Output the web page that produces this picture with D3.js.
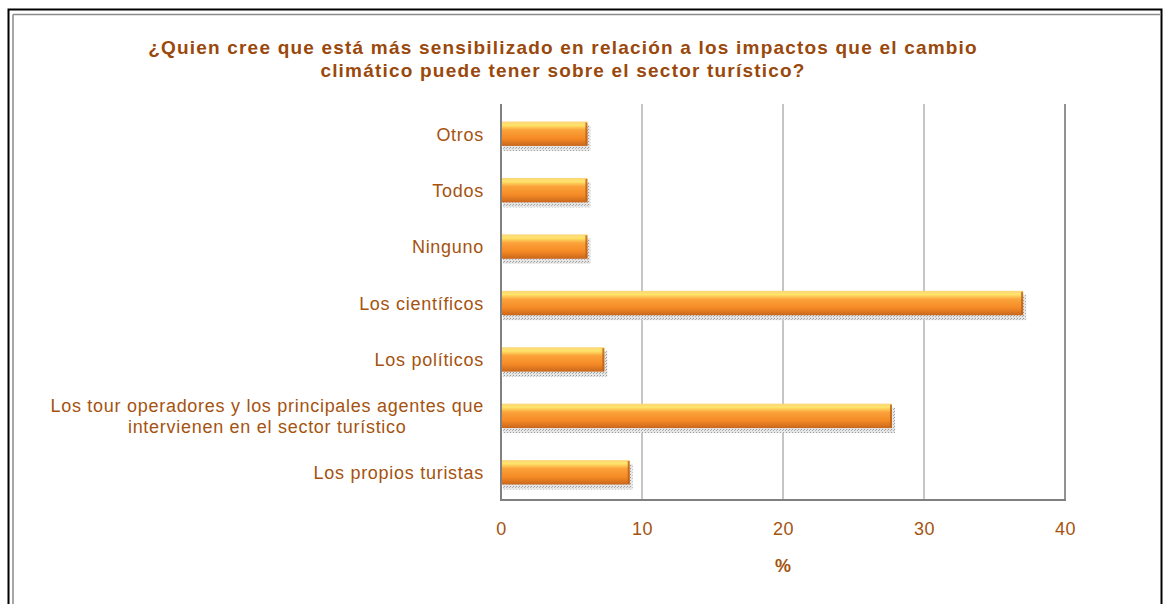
<!DOCTYPE html>
<html><head><meta charset="utf-8">
<script src="https://cdn.jsdelivr.net/npm/d3@7"></script>
<style>body{margin:0;background:#fff}svg{display:block}text{font-family:"Liberation Sans",Arial,sans-serif}</style>
</head><body>
<svg id="c" width="1163" height="604"></svg>
<script>
const titleLines = ["¿Quien cree que está más sensibilizado en relación a los impactos que el cambio", "climático puede tener sobre el sector turístico?"];
const categories = [
  ["Otros"],
  ["Todos"],
  ["Ninguno"],
  ["Los científicos"],
  ["Los políticos"],
  ["Los tour operadores y los principales agentes que", "intervienen en el sector turístico"],
  ["Los propios turistas"]
];
const values = [6.2, 6.2, 6.2, 37.1, 7.4, 27.8, 9.2];
const xTicks = [0, 10, 20, 30, 40];
const xLabel = "%";

const svg = d3.select("#c");
const textColor = "#a5530f";
const m = {left: 501, right: 1065, top: 104, bottom: 500};

// frame
svg.append("rect").attr("x", 8.5).attr("y", 9.5).attr("width", 1153).attr("height", 620).attr("fill", "none").attr("stroke", "#000").attr("stroke-width", 2);
svg.append("line").attr("x1", 13).attr("x2", 13).attr("y1", 14.5).attr("y2", 604).attr("stroke", "#8a8a8a").attr("stroke-width", 1.5);
svg.append("line").attr("x1", 13).attr("x2", 1161).attr("y1", 14.5).attr("y2", 14.5).attr("stroke", "#8a8a8a").attr("stroke-width", 1.5);

// gradient
const defs = svg.append("defs");
const g = defs.append("linearGradient").attr("id", "bg").attr("x1", 0).attr("y1", 0).attr("x2", 0).attr("y2", 1);
[[0, "#fbd57a"], [0.15, "#ffe46a"], [0.35, "#fba23a"], [0.7, "#f58a25"], [1, "#c8661c"]].forEach(([o, c]) => g.append("stop").attr("offset", o).attr("stop-color", c));
const pat = defs.append("pattern").attr("id", "dots").attr("width", 3).attr("height", 3).attr("patternUnits", "userSpaceOnUse");
pat.append("rect").attr("width", 3).attr("height", 3).attr("fill", "#e6e6e6");
pat.append("rect").attr("width", 1).attr("height", 1).attr("fill", "#9a9a9a");
pat.append("rect").attr("x", 2).attr("y", 1).attr("width", 1).attr("height", 1).attr("fill", "#b0b0b0");

const x = d3.scaleLinear().domain([0, 40]).range([m.left, m.right]);
const y = d3.scaleBand().domain(d3.range(categories.length)).range([106, 501]).paddingInner(0.55).paddingOuter(0.275);

// title
svg.append("text").attr("text-anchor", "middle").attr("fill", "#9a480c").attr("font-weight", "bold").attr("font-size", 19).attr("letter-spacing", 1.2)
  .selectAll("tspan").data(titleLines).join("tspan").attr("x", 563).attr("y", (d, i) => 54 + i * 23).text(d => d);

// gridlines
svg.append("g").selectAll("line").data(xTicks.slice(1)).join("line")
  .attr("x1", d => x(d)).attr("x2", d => x(d)).attr("y1", m.top).attr("y2", m.bottom)
  .attr("stroke", "#8c8c8c").attr("stroke-width", 1);

// bars shadow
svg.append("g").selectAll("rect").data(values).join("rect")
  .attr("x", x(0) + 2).attr("y", (d, i) => y(i) + 4).attr("width", d => x(d) - x(0)).attr("height", y.bandwidth())
  .attr("fill", "url(#dots)");
// bars
svg.append("g").selectAll("rect").data(values).join("rect")
  .attr("x", x(0)).attr("y", (d, i) => y(i)).attr("width", d => x(d) - x(0) - 1).attr("height", y.bandwidth() - 1)
  .attr("fill", "url(#bg)");
// bar right edge darker
svg.append("g").selectAll("rect").data(values).join("rect")
  .attr("x", d => x(d) - 3).attr("y", (d, i) => y(i) + 1).attr("width", 2).attr("height", y.bandwidth() - 3)
  .attr("fill", "#b8601c").attr("opacity", 0.8);

// axes lines
svg.append("line").attr("x1", m.left).attr("x2", m.left).attr("y1", m.top).attr("y2", m.bottom + 1).attr("stroke", "#808080").attr("stroke-width", 2);
svg.append("line").attr("x1", m.left).attr("x2", m.right + 1).attr("y1", m.bottom).attr("y2", m.bottom).attr("stroke", "#808080").attr("stroke-width", 2);
svg.append("line").attr("x1", m.right).attr("x2", m.right).attr("y1", m.top).attr("y2", m.bottom).attr("stroke", "#808080").attr("stroke-width", 1.5);

// x tick labels
const xAxis = d3.axisBottom(x).tickValues(xTicks).tickSize(0).tickPadding(0);
const xg = svg.append("g").attr("transform", `translate(0,${m.bottom + 22})`).call(xAxis);
xg.select(".domain").remove();
xg.selectAll("text").attr("fill", textColor).attr("font-size", 18).attr("letter-spacing", 0.5).attr("font-family", "Liberation Sans, Arial, sans-serif").attr("dy", "0.71em");

svg.append("text").attr("x", x(20)).attr("y", 572).attr("text-anchor", "middle").attr("fill", textColor).attr("font-weight", "bold").attr("font-size", 18).text(xLabel);

// category labels
const lab = svg.append("g").selectAll("text").data(categories).join("text")
  .attr("fill", textColor).attr("font-size", 18).attr("letter-spacing", 0.72);
lab.each(function (lines, i) {
  const t = d3.select(this);
  const cy = y(i) + y.bandwidth() / 2;
  const n = lines.length;
  lines.forEach((l, j) => t.append("tspan").text(l).attr("y", cy + (j - (n - 1) / 2) * 21).attr("dy", "0.35em"));
  const spans = t.selectAll("tspan").nodes();
  const w = d3.max(spans, s => s.getComputedTextLength());
  const right = 484;
  t.attr("text-anchor", "middle");
  t.selectAll("tspan").attr("x", right - w / 2);
});
</script>
</body></html>
